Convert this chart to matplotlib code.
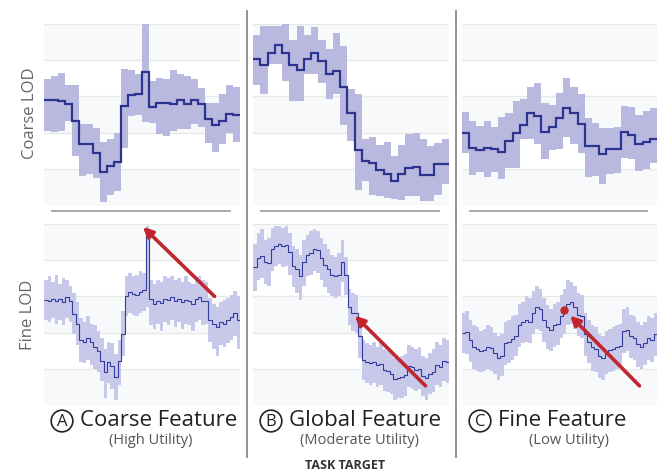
import numpy as np
import matplotlib.pyplot as plt
from matplotlib.lines import Line2D

plt.rcParams['font.family'] = ['Open Sans', 'DejaVu Sans']

# ---- coarse LOD (step means + band) ----
coarse_a = [2.9, 2.9, 2.88, 2.8, 2.32, 1.68, 1.68, 1.45, 0.91, 1.08, 1.19, 2.73, 3.04, 3.07,
            3.67, 2.72, 2.81, 2.83, 2.80, 2.90, 2.78, 2.90, 2.80, 2.38, 2.2, 2.32, 2.52, 2.48]
coarse_a_hi = [3.49, 3.56, 3.64, 3.31, 3.31, 2.23, 2.23, 2.14, 1.74, 1.83, 1.98, 3.75, 3.73, 3.61,
               5.0, 3.43, 3.52, 3.47, 3.73, 3.61, 3.55, 3.47, 3.24, 2.81, 2.81, 3.06, 3.31, 3.27]
coarse_a_lo = [2.04, 2.03, 2.04, 2.32, 1.35, 0.8, 0.85, 0.75, 0.09, 0.29, 0.39, 1.58, 2.46, 2.50,
               2.29, 2.27, 1.95, 1.91, 2.04, 2.09, 2.11, 2.23, 2.16, 1.70, 1.46, 1.68, 2.0, 1.74]

coarse_b = [4.02, 3.86, 4.21, 4.41, 4.21, 3.86, 3.73, 4.04, 4.19, 3.98, 3.61, 3.70, 3.27, 2.53,
            1.52, 1.22, 1.15, 0.97, 0.87, 0.66, 0.87, 1.03, 1.06, 0.82, 0.82, 1.12, 1.12]
coarse_b_hi = [4.69, 4.94, 4.94, 4.94, 4.99, 4.56, 4.94, 4.69, 4.93, 4.56, 4.32, 4.76, 4.39, 3.21,
               3.06, 1.81, 1.89, 1.65, 1.74, 1.34, 1.65, 1.95, 2.0, 1.83, 1.63, 1.72, 1.81]
coarse_b_lo = [3.31, 3.08, 3.89, 3.89, 3.43, 2.87, 2.87, 3.61, 3.61, 3.38, 2.94, 3.08, 2.20, 1.77,
               0.41, 0.66, 0.29, 0.25, 0.20, 0.17, 0.14, 0.25, 0.25, 0.11, 0.11, 0.29, 0.57]

coarse_c = [1.98, 1.58, 1.52, 1.58, 1.54, 1.46, 1.77, 2.0, 2.20, 2.53, 2.46, 2.02, 2.16, 2.41,
            2.69, 2.55, 2.23, 1.63, 1.63, 1.40, 1.54, 1.56, 2.02, 1.92, 1.68, 1.74, 1.81]
coarse_c_hi = [2.57, 2.32, 2.18, 2.32, 2.16, 2.44, 2.55, 2.87, 2.92, 3.27, 3.38, 2.81, 2.75, 3.10,
               3.52, 3.27, 3.08, 2.41, 2.26, 2.14, 2.14, 2.16, 2.73, 2.71, 2.50, 2.59, 2.69]
coarse_c_lo = [1.43, 0.82, 0.91, 0.76, 0.91, 0.73, 1.03, 1.03, 1.81, 1.81, 1.68, 1.26, 1.52, 1.56,
               1.89, 1.68, 1.43, 0.76, 0.80, 0.57, 0.85, 0.89, 1.30, 1.28, 0.94, 0.99, 1.17]

# ---- fine LOD ----
fine_a = [2.90, 2.88, 2.93, 2.86, 2.93, 2.84, 2.97, 2.86, 2.51, 2.24, 1.80, 1.73, 1.85, 1.73,
          1.61, 1.50, 1.22, 0.90, 1.18, 1.09, 0.78, 1.22, 1.96, 3.02, 3.11, 3.07, 3.05, 3.11,
          3.18, 4.72, 2.93, 2.79, 2.86, 2.81, 2.93, 2.90, 2.97, 2.86, 2.93, 2.84, 2.90, 2.86,
          2.79, 2.93, 2.97, 2.86, 2.88, 2.35, 2.24, 2.15, 2.28, 2.24, 2.35, 2.42, 2.53, 2.35]
fine_a_hi = [3.45, 3.55, 3.40, 3.60, 3.35, 3.50, 3.45, 3.30, 3.10, 2.85, 2.40, 2.30, 2.45, 2.25,
             2.20, 2.05, 1.85, 1.55, 1.75, 1.70, 1.40, 1.80, 2.60, 3.55, 3.65, 3.55, 3.60, 3.70,
             3.65, 4.95, 3.45, 3.35, 3.45, 3.40, 3.55, 3.50, 3.55, 3.45, 3.50, 3.40, 3.55, 3.40,
             3.35, 3.50, 3.55, 3.45, 3.40, 2.95, 2.80, 2.70, 2.85, 2.90, 2.95, 3.05, 3.15, 3.00]
fine_a_lo = [2.35, 2.30, 2.40, 2.25, 2.35, 2.20, 2.40, 2.30, 1.95, 1.65, 1.20, 1.15, 1.25, 1.10,
             1.00, 0.90, 0.65, 0.20, 0.60, 0.45, 0.15, 0.55, 1.35, 2.45, 2.55, 2.50, 2.45, 2.55,
             2.60, 2.70, 2.20, 2.10, 2.25, 2.05, 2.30, 2.20, 2.35, 2.15, 2.30, 2.10, 2.25, 2.20,
             2.05, 2.30, 2.35, 2.20, 2.25, 1.75, 1.55, 1.35, 1.65, 1.60, 1.70, 1.80, 1.90, 1.55]

fine_b = [3.80, 4.05, 4.12, 3.95, 3.92, 4.30, 4.40, 4.45, 4.38, 4.42, 4.22, 3.85, 3.75, 3.55,
          3.95, 4.15, 4.20, 4.30, 4.28, 4.05, 3.88, 3.75, 3.58, 3.55, 3.60, 3.95, 3.60, 2.70,
          2.55, 2.55, 1.90, 1.25, 1.20, 1.15, 1.18, 1.10, 1.12, 0.98, 0.95, 0.85, 0.72, 0.75,
          0.78, 0.82, 1.08, 1.05, 0.98, 1.00, 0.80, 0.75, 0.85, 0.92, 1.10, 1.05, 1.22, 1.20]
fine_b_hi = [4.45, 4.75, 4.85, 4.55, 4.60, 4.90, 4.95, 4.95, 4.90, 4.95, 4.75, 4.40, 4.30, 4.15,
             4.55, 4.70, 4.80, 4.85, 4.80, 4.60, 4.45, 4.30, 4.15, 4.10, 4.20, 4.55, 4.10, 3.20,
             3.10, 3.05, 2.40, 1.80, 1.70, 1.65, 1.75, 1.60, 1.70, 1.55, 1.50, 1.40, 1.30, 1.30,
             1.35, 1.40, 1.65, 1.60, 1.55, 1.60, 1.35, 1.30, 1.45, 1.55, 1.75, 1.65, 1.85, 1.80]
fine_b_lo = [3.15, 3.45, 3.50, 3.35, 3.30, 3.70, 3.85, 3.90, 3.80, 3.85, 3.60, 3.25, 3.10, 2.90,
             3.30, 3.55, 3.60, 3.70, 3.65, 3.45, 3.25, 3.10, 3.00, 2.95, 3.00, 3.40, 3.05, 2.20,
             2.05, 2.00, 1.30, 0.70, 0.60, 0.55, 0.60, 0.50, 0.55, 0.40, 0.35, 0.30, 0.15, 0.20,
             0.20, 0.25, 0.50, 0.45, 0.40, 0.45, 0.25, 0.15, 0.30, 0.35, 0.55, 0.50, 0.65, 0.60]

fine_c = [2.00, 2.02, 1.80, 1.60, 1.55, 1.48, 1.52, 1.60, 1.58, 1.45, 1.30, 1.35, 1.70, 1.75,
          1.82, 1.90, 2.20, 2.28, 2.35, 2.30, 2.55, 2.72, 2.65, 2.35, 2.15, 2.08, 2.20, 2.25,
          2.45, 2.55, 2.80, 2.85, 2.70, 2.50, 2.45, 1.95, 1.75, 1.60, 1.55, 1.35, 1.30, 1.45,
          1.52, 1.55, 1.60, 1.62, 2.05, 2.08, 1.90, 1.85, 1.68, 1.60, 1.70, 1.85, 1.80, 1.95]
fine_c_hi = [2.55, 2.60, 2.35, 2.20, 2.15, 2.05, 2.10, 2.20, 2.15, 2.00, 1.90, 1.95, 2.30, 2.35,
             2.45, 2.50, 2.80, 2.85, 3.00, 2.95, 3.15, 3.30, 3.20, 2.95, 2.75, 2.65, 2.80, 2.85,
             3.05, 3.20, 3.45, 3.40, 3.30, 3.10, 3.05, 2.55, 2.35, 2.20, 2.15, 1.95, 1.90, 2.05,
             2.10, 2.15, 2.20, 2.25, 2.65, 2.70, 2.50, 2.45, 2.30, 2.20, 2.30, 2.45, 2.40, 2.55]
fine_c_lo = [1.45, 1.40, 1.20, 1.00, 0.95, 0.90, 0.95, 1.00, 0.95, 0.85, 0.70, 0.80, 1.10, 1.15,
             1.25, 1.35, 1.60, 1.70, 1.75, 1.70, 1.95, 2.10, 2.05, 1.75, 1.55, 1.50, 1.60, 1.65,
             1.85, 1.95, 2.20, 2.25, 2.10, 1.90, 1.85, 1.35, 1.15, 0.95, 0.90, 0.75, 0.70, 0.85,
             0.90, 0.95, 1.00, 1.05, 1.45, 1.50, 1.30, 1.25, 1.05, 1.00, 1.10, 1.25, 1.20, 1.35]

# arrows: (tail x, tail y) -> (tip x, tip y) in panel coordinates
arrow_a = ((0.87, 3.0), (0.505, 4.92))
arrow_b = ((0.88, 0.53), (0.52, 2.47))
arrow_c = ((0.91, 0.53), (0.555, 2.47))
dot_c = (0.522, 2.62)

letters = ['A', 'B', 'C']
titles = ['Coarse Feature', 'Global Feature', 'Fine Feature']
subtitles = ['(High Utility)', '(Moderate Utility)', '(Low Utility)']

band_col = '#b9b9df'
line_col = '#2b3590'
fine_band_col = '#c8c8ea'
fine_line_col = '#323c9c'
red = '#c0262d'

fig = plt.figure(figsize=(6.57, 4.77), dpi=100)

lefts = [44 / 657, 253 / 657, 462 / 657]
widths = [196 / 657, 196 / 657, 195 / 657]
h = 181 / 477
top_bottom = (477 - 206) / 477
fine_bottom = (477 - 406) / 477


def setup(ax):
    ax.set_xlim(0, 1)
    ax.set_ylim(0, 5)
    for lo in [0, 2, 4]:
        ax.axhspan(lo, lo + 1, color='#f8f9fa', lw=0, zorder=0)
    for g in range(6):
        ax.axhline(g, color='#e8e8e8', lw=1, zorder=1)
    ax.axis('off')


coarse = [(coarse_a, coarse_a_hi, coarse_a_lo), (coarse_b, coarse_b_hi, coarse_b_lo),
          (coarse_c, coarse_c_hi, coarse_c_lo)]
fine = [(fine_a, fine_a_hi, fine_a_lo), (fine_b, fine_b_hi, fine_b_lo),
        (fine_c, fine_c_hi, fine_c_lo)]
arrows = [arrow_a, arrow_b, arrow_c]

for i in range(3):
    # coarse row
    ax = fig.add_axes([lefts[i], top_bottom, widths[i], h])
    setup(ax)
    mean, hi, lo = coarse[i]
    edges = np.linspace(0, 1, len(mean) + 1)
    ax.stairs(hi, edges, baseline=lo, fill=True, color=band_col, lw=0, zorder=2)
    ax.stairs(mean, edges, baseline=None, color=line_col, lw=1.6, zorder=3)

    # fine row
    ax2 = fig.add_axes([lefts[i], fine_bottom, widths[i], h])
    setup(ax2)
    mean, hi, lo = fine[i]
    edges = np.linspace(0, 1, len(mean) + 1)
    ax2.stairs(hi, edges, baseline=lo, fill=True, color=fine_band_col, lw=0, zorder=2)
    ax2.stairs(mean, edges, baseline=None, color=fine_line_col, lw=0.8, zorder=3)
    (tx, ty), (hx, hy) = arrows[i]
    ax2.annotate('', xy=(hx, hy), xytext=(tx, ty),
                 arrowprops=dict(arrowstyle='-|>', color=red, lw=2.6, mutation_scale=14,
                                 shrinkA=0, shrinkB=0), zorder=5)
    if i == 2:
        ax2.plot(*dot_c, 'o', color=red, ms=5, zorder=6)

    # short separator between rows
    x0 = lefts[i] + 8 / 657
    x1 = lefts[i] + widths[i] - 10 / 657
    fig.add_artist(Line2D([x0, x1], [(477 - 212) / 477] * 2, color='#a0a0a0', lw=1.3))

    # column labels
    cx = lefts[i] + 18 / 657
    fig.text(cx, (477 - 422) / 477, letters[i], ha='center', va='center', fontsize=12,
             color='#222222',
             bbox=dict(boxstyle='circle,pad=0.17', fc='white', ec='#222222', lw=1.2))
    fig.text(cx + 18 / 657, (477 - 421) / 477, titles[i], ha='left', va='center',
             fontsize=16, color='#222222')
    fig.text(lefts[i] + 107 / 657, (477 - 441) / 477, subtitles[i], ha='center', va='center',
             fontsize=10.5, color='#555555')

# vertical separators
for xp in [246.5, 456]:
    fig.add_artist(Line2D([xp / 657] * 2, [(477 - 12) / 477, (477 - 458) / 477],
                          color='#8a8a8a', lw=1.3))

fig.text(30 / 657, (477 - 113) / 477, 'Coarse LOD', rotation=90, ha='center', va='center',
         fontsize=12, color='#666666')
fig.text(28 / 657, (477 - 315) / 477, 'Fine LOD', rotation=90, ha='center', va='center',
         fontsize=12, color='#666666')
fig.text(345 / 657, (477 - 466) / 477, 'TASK TARGET', ha='center', va='center',
         fontsize=9, fontweight='bold', color='#333333')

fig.savefig('out.png', dpi=100, facecolor='white')
